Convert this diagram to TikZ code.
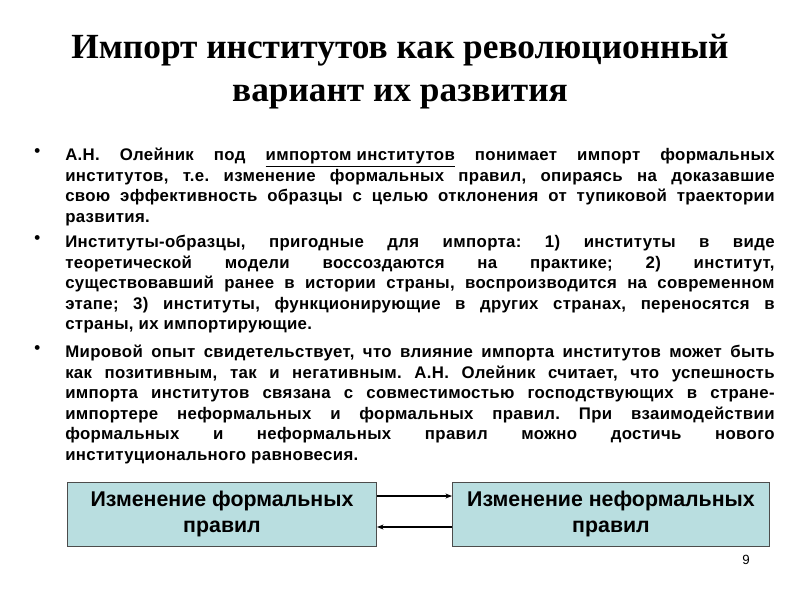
\documentclass[tikz,border=0pt]{standalone}
\usepackage{fontspec}
\setmainfont{Liberation Serif}
\newfontfamily\arialf{Liberation Sans}
\newfontfamily\arialsp[LetterSpace=2]{Liberation Sans}
\usetikzlibrary{arrows.meta}
\newcommand{\lb}{\linebreak}
\frenchspacing
\begin{document}
\begin{tikzpicture}[x=0.75pt,y=-0.75pt,
  para/.style={anchor=north west,text width=532pt,align=justify,inner sep=0pt,font=\arialsp\bfseries\fontsize{12.6pt}{15.4pt}\selectfont\frenchspacing},
  bul/.style={anchor=north west,inner sep=0pt,font=\arialf\bfseries\fontsize{12.6pt}{15.4pt}\selectfont},
  box/.style={draw=black!70,fill={rgb,255:red,185;green,222;blue,224},minimum height=48pt,align=center,font=\arialf\bfseries\fontsize{16pt}{19pt}\selectfont},
  arr/.style={-{Stealth[length=5pt]},line width=1.2pt}]
\useasboundingbox (0,0) rectangle (800,600);
\node (t1) at (400,50) {\bfseries\fontsize{26.5pt}{30pt}\selectfont Импорт институтов как революционный};
\node (t2) at (400,97) {\bfseries\fontsize{26.5pt}{30pt}\selectfont вариант их развития};
\node[bul] (b1) at (34,148) {•};
\node[para] (p1) at (65,148) {А.Н. Олейник под \underline{импортом институтов} понимает импорт формальных\lb институтов, т.е. изменение формальных правил, опираясь на доказавшие\lb свою эффективность образцы с целью отклонения от тупиковой траектории\lb развития.};
\node[bul] (b2) at (34,235) {•};
\node[para] (p2) at (65,235) {Институты-образцы, пригодные для импорта: 1) институты в виде\lb теоретической модели воссоздаются на практике; 2) институт,\lb существовавший ранее в истории страны, воспроизводится на современном\lb этапе; 3) институты, функционирующие в других странах, переносятся в\lb страны, их импортирующие.};
\node[bul] (b3) at (34,345) {•};
\node[para] (p3) at (65,345) {Мировой опыт свидетельствует, что влияние импорта институтов может быть\lb как позитивным, так и негативным. А.Н. Олейник считает, что успешность\lb импорта институтов связана с совместимостью господствующих в стране-\lb импортере неформальных и формальных правил. При взаимодействии\lb формальных и неформальных правил можно достичь нового\lb институционального равновесия.};
\node[box,minimum width=232pt] (l) at (222,514) {Изменение формальных\\правил};
\node[box,minimum width=238pt] (r) at (611,514) {Изменение неформальных\\правил};
\draw[arr] (l.east|-0,496) -- (r.west|-0,496);
\draw[arr] (r.west|-0,527) -- (l.east|-0,527);
\node (pg) at (746,560) {\arialf\fontsize{10pt}{12pt}\selectfont 9};
\end{tikzpicture}
\end{document}
